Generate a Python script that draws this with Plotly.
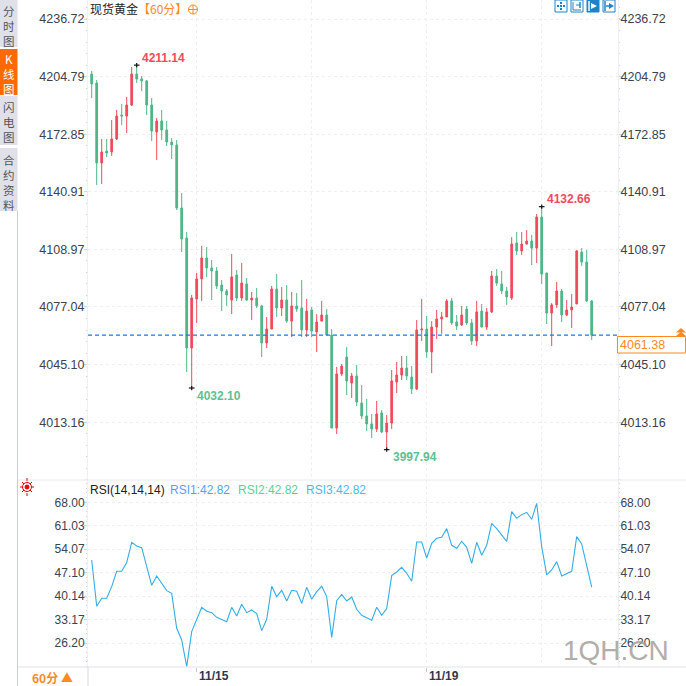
import plotly.graph_objects as go
from plotly.subplots import make_subplots

# Candles (60 min)
open_px = [4206.2, 4201.2, 4156.9, 4163.5, 4163.0, 4170.2, 4183.5, 4182.9, 4189.0, 4206.2,
           4203.5, 4202.4, 4189.0, 4174.1, 4180.2, 4175.2, 4168.5, 4166.9, 4131.9, 4115.3,
           4054.3, 4081.5, 4092.6, 4104.2, 4098.7, 4097.0, 4089.2, 4085.9, 4080.9, 4094.8,
           4082.0, 4089.8, 4080.9, 4082.0, 4077.6, 4057.1, 4064.8, 4087.0, 4076.5, 4080.9,
           4069.2, 4077.6, 4076.5, 4064.3, 4075.4, 4063.2, 4069.2, 4072.6, 4061.5, 4009.9,
           4039.9, 4049.3, 4034.9, 4038.8, 4023.8, 4016.6, 4012.2, 4009.4, 4018.3, 4007.7,
           4012.7, 4035.4, 4039.3, 4043.2, 4038.2, 4031.6, 4064.3, 4064.8, 4052.1, 4065.9,
           4070.4, 4071.5, 4080.4, 4068.7, 4067.1, 4075.9, 4068.2, 4058.2, 4074.8, 4065.9,
           4074.3, 4094.2, 4089.8, 4085.9, 4082.0, 4112.5, 4108.1, 4111.9, 4113.6, 4109.7,
           4126.9, 4095.9, 4073.7, 4078.2, 4085.9, 4072.6, 4075.4, 4078.7, 4107.5, 4102.0,
           4080.4]
high_px = [4207.9, 4202.9, 4170.2, 4170.2, 4180.7, 4186.3, 4189.6, 4193.5, 4210.1, 4211.14,
           4205.1, 4202.9, 4192.9, 4181.8, 4186.3, 4180.2, 4170.7, 4169.6, 4140.2, 4118.6,
           4083.7, 4095.9, 4110.9, 4110.3, 4103.1, 4099.2, 4092.0, 4087.0, 4106.4, 4097.5,
           4101.4, 4093.1, 4085.3, 4087.6, 4078.2, 4071.5, 4088.7, 4095.3, 4088.1, 4089.2,
           4085.3, 4084.8, 4092.0, 4081.5, 4077.0, 4073.1, 4080.4, 4075.9, 4064.8, 4043.8,
           4045.4, 4054.9, 4040.4, 4044.9, 4033.8, 4026.0, 4017.7, 4024.9, 4019.9, 4017.1,
           4042.1, 4046.5, 4049.9, 4049.9, 4044.3, 4069.8, 4081.5, 4072.0, 4069.2, 4075.4,
           4074.3, 4081.5, 4082.0, 4072.6, 4077.6, 4077.6, 4070.4, 4080.4, 4078.7, 4076.5,
           4097.0, 4098.1, 4097.0, 4088.1, 4115.8, 4118.6, 4118.6, 4119.7, 4117.0, 4128.6,
           4132.66, 4095.9, 4079.2, 4090.9, 4087.0, 4080.9, 4084.2, 4108.6, 4109.7, 4108.6,
           4080.9]
low_px = [4192.9, 4144.7, 4145.2, 4160.2, 4160.8, 4169.6, 4177.9, 4173.5, 4188.5, 4201.2,
          4196.8, 4183.5, 4169.1, 4158.5, 4169.6, 4166.3, 4159.1, 4130.8, 4107.5, 4041.0,
          4032.10, 4068.2, 4080.4, 4093.7, 4080.9, 4087.0, 4074.8, 4077.6, 4073.1, 4080.4,
          4080.4, 4080.4, 4069.8, 4076.5, 4049.3, 4054.3, 4064.8, 4071.5, 4072.0, 4068.2,
          4060.4, 4074.3, 4060.4, 4060.4, 4060.4, 4052.1, 4069.2, 4061.5, 4009.9, 4006.6,
          4038.8, 4028.2, 4026.6, 4022.1, 4014.9, 4008.3, 4004.4, 4007.7, 4007.2, 3997.94,
          4009.4, 4029.3, 4036.5, 4036.5, 4028.8, 4031.0, 4058.2, 4048.8, 4040.4, 4059.3,
          4062.1, 4071.5, 4067.1, 4064.3, 4066.5, 4067.1, 4056.0, 4055.4, 4065.9, 4064.3,
          4073.7, 4088.7, 4084.2, 4078.2, 4080.9, 4105.9, 4105.9, 4111.9, 4100.3, 4101.4,
          4089.8, 4067.6, 4055.4, 4076.5, 4068.7, 4072.0, 4065.4, 4078.7, 4099.8, 4079.8,
          4058.7]
close_px = [4200.7, 4156.9, 4163.0, 4162.4, 4170.2, 4182.9, 4182.9, 4189.0, 4206.2, 4203.5,
            4202.4, 4189.0, 4174.6, 4180.2, 4175.2, 4168.5, 4166.9, 4131.9, 4114.7, 4054.3,
            4082.0, 4092.6, 4104.2, 4098.7, 4097.0, 4088.7, 4085.9, 4083.7, 4093.7, 4082.0,
            4090.3, 4080.9, 4082.0, 4077.6, 4057.1, 4064.8, 4087.0, 4076.5, 4080.9, 4069.2,
            4077.6, 4075.9, 4064.3, 4074.8, 4063.7, 4068.7, 4072.6, 4061.5, 4009.9, 4039.9,
            4044.3, 4036.0, 4038.8, 4024.3, 4016.6, 4012.2, 4009.4, 4017.7, 4007.7, 4012.7,
            4036.0, 4039.3, 4043.2, 4038.8, 4031.6, 4064.3, 4064.8, 4052.1, 4065.9, 4070.4,
            4071.5, 4080.4, 4068.2, 4066.5, 4072.6, 4068.2, 4058.2, 4074.3, 4065.9, 4074.3,
            4094.2, 4090.3, 4085.9, 4082.6, 4111.9, 4108.1, 4111.9, 4113.6, 4109.7, 4126.9,
            4095.3, 4073.7, 4078.2, 4085.9, 4072.6, 4075.4, 4077.0, 4108.1, 4102.0, 4080.4,
            4061.38]

rsi = [50.9, 37.14, 39.51, 39.51, 42.98, 47.53, 47.53, 50.1, 56.13, 55.04,
       54.55, 48.91, 43.37, 46.14, 43.96, 41.79, 41.0, 30.61, 27.15, 19.24,
       29.62, 33.08, 36.84, 35.66, 35.26, 33.88, 33.18, 32.59, 36.84, 34.27,
       37.73, 35.26, 36.05, 34.96, 29.92, 33.28, 43.07, 40.01, 41.89, 38.72,
       41.89, 41.59, 38.03, 42.78, 39.22, 41.49, 43.07, 40.01, 27.94, 38.82,
       40.7, 38.72, 39.91, 36.25, 34.47, 33.68, 32.99, 36.84, 34.47, 36.45,
       46.24, 47.33, 48.71, 46.93, 44.56, 56.23, 56.23, 51.48, 55.83, 57.32,
       57.61, 60.19, 55.24, 54.35, 56.43, 54.65, 49.9, 56.13, 52.27, 55.24,
       61.77, 60.19, 58.31, 56.43, 65.23, 63.25, 64.34, 65.03, 62.96, 67.7,
       54.84, 46.44, 47.92, 50.39, 46.14, 46.83, 47.53, 57.81, 55.64, 49.21,
       42.82]

price_ticks = [4236.72, 4204.79, 4172.85, 4140.91, 4108.97, 4077.04, 4045.10, 4013.16]
rsi_ticks = [68.00, 61.03, 54.07, 47.10, 40.14, 33.17, 26.20]
date_ticks = [21, 44, 67, 90]
date_labels = ["11/15", "", "11/19", ""]
labelled_dates = [21, 67]

# high / low markers on the candles
extremes = [(9, 4211.14, "#ee4b5f"), (20, 4032.10, "#5fbf94"),
            (59, 3997.94, "#5fbf94"), (90, 4132.66, "#ee4b5f")]
last_price = close_px[-1]

UP = "#ef4a5c"
DOWN = "#4fb587"
ORANGE = "#ff8a1f"
GRID = "#eeeff2"
TEXT = "#3b4250"
SANS = "Liberation Sans, Arial, sans-serif"
CJK = "Noto Sans CJK SC, sans-serif"

idx = list(range(len(close_px)))

L, R, B, W, H = 88, 68, 19, 686, 686
PW, PH = W - L - R, H - B


def px(x):
    return (x - L) / PW


def py(y):
    return (PH - y) / PH


split = 480 / PH
fig = make_subplots(rows=2, cols=1, shared_xaxes=True, vertical_spacing=0,
                    row_heights=[split, 1 - split])

fig.add_trace(go.Candlestick(x=idx, open=open_px, high=high_px, low=low_px, close=close_px,
                             increasing=dict(line=dict(color=UP, width=1), fillcolor=UP),
                             decreasing=dict(line=dict(color=DOWN, width=1), fillcolor=DOWN),
                             whiskerwidth=0, hoverinfo="skip"), row=1, col=1)

# current price dashed line
fig.add_trace(go.Scatter(x=[-0.74, 105.26], y=[last_price, last_price], mode="lines",
                         line=dict(color="#0a7cf5", width=1.2, dash="4px,3px"),
                         hoverinfo="skip"), row=1, col=1)

# crosses on the high / low points
fig.add_trace(go.Scatter(x=[e[0] for e in extremes], y=[e[1] for e in extremes], mode="markers",
                         marker=dict(symbol="line-ew", size=4, line=dict(color="#111", width=1.2)),
                         hoverinfo="skip"), row=1, col=1)
fig.add_trace(go.Scatter(x=[e[0] for e in extremes], y=[e[1] for e in extremes], mode="markers",
                         marker=dict(symbol="line-ns", size=3, line=dict(color="#111", width=1.2)),
                         hoverinfo="skip"), row=1, col=1)

fig.add_trace(go.Scatter(x=idx, y=rsi, mode="lines", line=dict(color="#35ade6", width=1.1),
                         hoverinfo="skip"), row=2, col=1)

# invisible traces so the right hand axes get drawn
fig.add_trace(go.Scatter(x=[0], y=[price_ticks[0]], mode="markers", marker=dict(opacity=0),
                         yaxis="y3", xaxis="x", hoverinfo="skip"))
fig.add_trace(go.Scatter(x=[0], y=[rsi_ticks[0]], mode="markers", marker=dict(opacity=0),
                         yaxis="y4", xaxis="x2", hoverinfo="skip"))

price_range = [3981.1, 4247.26]
rsi_range = [19.13, 74.62]

axis_common = dict(showline=True, linecolor="#eef0f3", zeroline=False, griddash="dot",
                   ticks="outside", ticklen=3, tickcolor="#bcdcf0", tickformat=".2f")
minor_price = dict(dtick=6.388, tick0=4013.16, ticks="outside", ticklen=1, tickcolor="#cfd3d8", showgrid=False)
minor_rsi = dict(dtick=1.394, tick0=26.20, ticks="outside", ticklen=1, tickcolor="#cfd3d8", showgrid=False)

fig.update_yaxes(range=price_range, tickvals=price_ticks, minor=minor_price, showgrid=True, gridcolor=GRID,
                 tickfont=dict(family=SANS, color=TEXT, size=12.5), ticklabelstandoff=-3, row=1, col=1, **axis_common)
fig.update_yaxes(range=rsi_range, tickvals=rsi_ticks, minor=minor_rsi, showgrid=True, gridcolor=GRID,
                 tickfont=dict(family=SANS, color=TEXT, size=12), ticklabelstandoff=-3, row=2, col=1, **axis_common)

fig.update_layout(
    yaxis3=dict(overlaying="y", side="right", anchor="x", range=price_range, tickvals=price_ticks,
                showgrid=False, minor=minor_price, ticklabelstandoff=-4,
                tickfont=dict(family=SANS, color=TEXT, size=12.5), **axis_common),
    yaxis4=dict(overlaying="y2", side="right", anchor="x2", range=rsi_range, tickvals=rsi_ticks,
                showgrid=False, minor=minor_rsi, ticklabelstandoff=-4,
                tickfont=dict(family=SANS, color=TEXT, size=12), **axis_common),
)

fig.update_xaxes(range=[-0.74, 105.26], tickmode="array", tickvals=date_ticks, showgrid=True,
                 gridcolor=GRID, griddash="dot", showline=False, zeroline=False)
fig.update_xaxes(rangeslider_visible=False, showticklabels=False, ticks="", row=1, col=1)
fig.update_xaxes(ticktext=date_labels, ticks="", ticklabelshift=17, row=2, col=1,
                 minor=dict(tickvals=labelled_dates, ticks="outside", ticklen=4, tickcolor="#c5c9cf", showgrid=False),
                 tickfont=dict(family=SANS, size=12, color="#30364f", weight="bold"))

ann = []


def add_text(x, y, text, color, size=12, family=SANS, weight=None, anchor="left", opacity=None):
    font = dict(family=family, size=size, color=color)
    if weight:
        font["weight"] = weight
    a = dict(x=px(x), y=py(y), xref="paper", yref="paper", text=text, showarrow=False, font=font,
             xanchor=anchor, yanchor="middle", borderpad=0, borderwidth=0)
    if opacity:
        a["opacity"] = opacity
    ann.append(a)


# labels of the high / low points
for (i, val, color), lx, ly in zip(extremes, [141, 196, 392, 546], [58, 396, 457, 199]):
    ann.append(dict(x=i, y=val, xref="x", yref="y", text=f"{val:.2f}", showarrow=False, borderpad=0,
                    font=dict(family=SANS, size=12, color=color, weight="bold"), xanchor="left",
                    yanchor="middle", xshift=lx - (91.7 + 5 * i),
                    yshift=(76.6 + (4204.79 - val) / 0.5545) - ly))

# titles
add_text(90, 8.5, "现货黄金", "#222", 12, CJK)
add_text(138, 8.5, "【60分】", ORANGE, 12, CJK)
add_text(90, 490, "RSI(14,14,14)", "#222", 12)
add_text(170, 490, "RSI1:42.82", "#5c9dff", 12)
add_text(238, 490, "RSI2:42.82", "#58d29a", 12)
add_text(306, 490, "RSI3:42.82", "#4db9f0", 12)

# left tabs
tabs = [(0, 47, "分<br>时<br>图", 26, "#e0e1e8", "#555"),
        (49, 95, "K<br>线<br>图", 73.5, "#ff6a00", "#fff"),
        (96, 145, "闪<br>电<br>图", 122, "#e0e1e8", "#555"),
        (148, 211, "合<br>约<br>资<br>料", 182, "#e0e1e8", "#555")]
shapes = []


def add_shape(kind, x0, y0, x1, y1, **kw):
    shapes.append(dict(type=kind, xref="paper", yref="paper", x0=px(x0), y0=py(y0), x1=px(x1), y1=py(y1),
                       layer="above", **kw))


for top, bottom, label, cy, bg, fg in tabs:
    add_shape("rect", 0, top, 17.5, bottom, fillcolor=bg, line=dict(width=0))
    add_text(8.5, cy, label, fg, 11.5, CJK, anchor="center")
add_shape("line", 17.5, 211, 17.5, 686, line=dict(color="#c9cdd6", width=1))

# panel separators
add_shape("line", 18, 480, 686, 480, line=dict(color="#e8eaee", width=1))
add_shape("line", 18, 667, 686, 667, line=dict(color="#e0e3e8", width=1))
add_shape("line", 88, 667, 88, 686, line=dict(color="#d5d9e0", width=1))
add_text(32, 677, "60分 ▲", ORANGE, 12, CJK, "bold")

# title icon, circle with cross
add_shape("circle", 188.5, 5, 197.5, 14, line=dict(color=ORANGE, width=1))
add_shape("line", 188.5, 9.5, 197.5, 9.5, line=dict(color=ORANGE, width=1))
add_shape("line", 193, 5, 193, 14, line=dict(color=ORANGE, width=1))

# RSI settings icon
add_shape("circle", 22.5, 482.5, 31.5, 491.5, line=dict(color="#d00", width=1))
add_shape("circle", 25, 485, 29, 489, fillcolor="#e00", line=dict(color="#e00", width=1))
for x0, y0, x1, y1 in [(27, 478, 27, 481), (27, 493, 27, 496), (20, 487, 22, 487), (32, 487, 34, 487),
                       (22, 482, 24, 484), (30, 490, 32, 492), (32, 482, 30, 484), (22, 492, 24, 490)]:
    add_shape("line", x0, y0, x1, y1, line=dict(color="#d00", width=1))

# top right buttons
BLUE = "#1f83c9"
for n, (x0, x1) in enumerate([(555, 567), (571, 583), (587, 599), (603, 615)]):
    add_shape("rect", x0, 0, x1, 12, line=dict(color=BLUE, width=1),
              fillcolor=BLUE if n == 2 else "#fff")
add_shape("line", 557, 6, 565, 6, line=dict(color=BLUE, width=2, dash="2px,1px"))
add_shape("line", 561, 2, 561, 10, line=dict(color=BLUE, width=2, dash="2px,1px"))
add_shape("line", 573, 2, 573, 10, line=dict(color=BLUE, width=1))
add_shape("line", 573, 10, 581, 10, line=dict(color=BLUE, width=1))
add_shape("line", 580, 2, 580, 8, line=dict(color=BLUE, width=1.5))
add_shape("line", 576, 5, 580, 5, line=dict(color=BLUE, width=1))
add_shape("line", 589, 1, 589, 11, line=dict(color="#fff", width=1.5))
shapes.append(dict(type="path", xref="paper", yref="paper", layer="above", fillcolor="#fff",
                   line=dict(width=0),
                   path=f"M {px(591)} {py(3)} L {px(597)} {py(6)} L {px(591)} {py(9)} Z"))
add_shape("line", 605, 1, 605, 11, line=dict(color=BLUE, width=1.5))
shapes.append(dict(type="path", xref="paper", yref="paper", layer="above", fillcolor=BLUE,
                   line=dict(width=0),
                   path=f"M {px(609)} {py(3)} L {px(614)} {py(6)} L {px(609)} {py(9)} Z"))
add_shape("line", 606, 6, 610, 6, line=dict(color=BLUE, width=1.5))

# price tag and arrows
add_shape("rect", 617.5, 336.5, 685.5, 353, fillcolor="#fff", line=dict(color=ORANGE, width=1))
add_text(620, 345, f"{last_price:.2f}", ORANGE, 12.5)
for top in (328, 331.5):
    shapes.append(dict(type="path", xref="paper", yref="paper", layer="above", fillcolor=ORANGE,
                       line=dict(width=0),
                       path=f"M {px(676)} {py(top + 4.5)} L {px(686)} {py(top + 4.5)} L {px(681)} {py(top)} Z"))

# watermark
add_text(563, 650, "1QH.CN", "#a8a09c", 28, SANS, opacity=0.85)

fig.update_layout(width=W, height=H, margin=dict(l=L, r=R, t=0, b=B, pad=0), showlegend=False,
                  plot_bgcolor="#fff", paper_bgcolor="#fff", annotations=ann, shapes=shapes, boxgap=0.5)

fig.write_html("out.html", config=dict(displayModeBar=False), post_script="document.body.style.margin='0';")
